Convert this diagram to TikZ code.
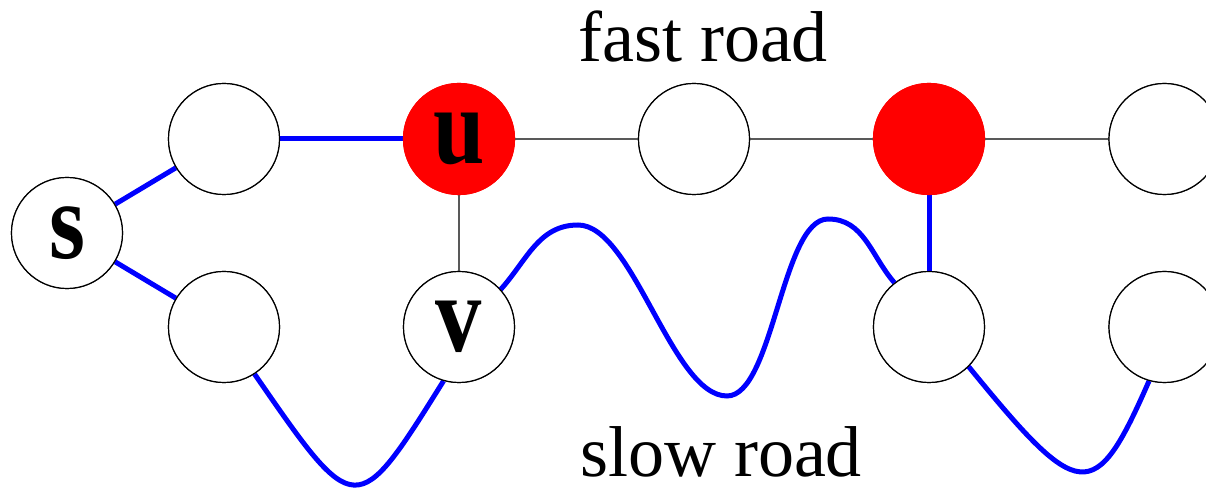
\documentclass[tikz,border=0pt]{standalone}
\usepackage{fontspec}
\setmainfont{Liberation Serif}
\newfontfamily\letterfont{Liberation Serif}[FakeStretch=0.84]
\begin{document}
\begin{tikzpicture}[x=0.5pt,y=-0.5pt,
  vnode/.style={circle,draw=black,line width=0.6pt,fill=white,minimum size=55.5pt,inner sep=0pt,font=\letterfont\fontsize{55}{55}\selectfont\bfseries},
  rnode/.style={vnode,fill=red,draw=red},
  thin/.style={draw=black!65,line width=0.65pt},
  blue path/.style={draw=blue,line width=2.5pt},
  lbl/.style={anchor=base,inner sep=0pt,font=\fontsize{36}{36}\selectfont}]
\useasboundingbox (0,0) rectangle (1206,491);
\clip (0,0) rectangle (1206,491);
% nodes
\node[vnode] (s) at (67,233) {s};
\node[vnode] (a) at (224,139) {};
\node[vnode] (b) at (224,327) {};
\node[rnode] (u) at (459,139) {u};
\node[vnode] (v) at (459,327) {v};
\node[vnode] (m) at (694,139) {};
\node[rnode] (r) at (929,139) {};
\node[vnode] (w) at (929,327) {};
\node[vnode] (e) at (1164.5,139) {};
\node[vnode] (f) at (1164.5,327) {};
% labels
\node[lbl] (fast) at (703,62) {fast road};
\node[lbl] (slow) at (721,477) {slow road};
% helper coordinates for the wavy slow road
\coordinate (p1) at (578,225);
\coordinate (t1) at (727,396);
\coordinate (p2) at (828,219);
% thin edges
\draw[thin] (u) -- (m);
\draw[thin] (m) -- (r);
\draw[thin] (r) -- (e);
\draw[thin] (u) -- (v);
% blue edges
\draw[blue path] (s) -- (a);
\draw[blue path] (s) -- (b);
\draw[blue path] (a) -- (u);
\draw[blue path] (r) -- (w);
\draw[blue path] (b.-57) .. controls (356,521) .. (v.254);
\draw[blue path] (v.42) to[out=48,in=180] (p1)
   to[out=0,in=180,looseness=0.62] (t1)
   to[out=0,in=180,looseness=0.58] (p2)
   to[out=0,in=131] (w.128.5);
\draw[blue path] (w.-45.3) .. controls (1079.6,502.7) and (1094.3,506.4) .. (f.254.7);
% redraw nodes on top
\node[vnode] at (s) {s};
\node[vnode] at (a) {};
\node[vnode] at (b) {};
\node[rnode] at (u) {u};
\node[vnode] at (v) {v};
\node[vnode] at (m) {};
\node[rnode] at (r) {};
\node[vnode] at (w) {};
\node[vnode] at (e) {};
\node[vnode] at (f) {};
\end{tikzpicture}
\end{document}
